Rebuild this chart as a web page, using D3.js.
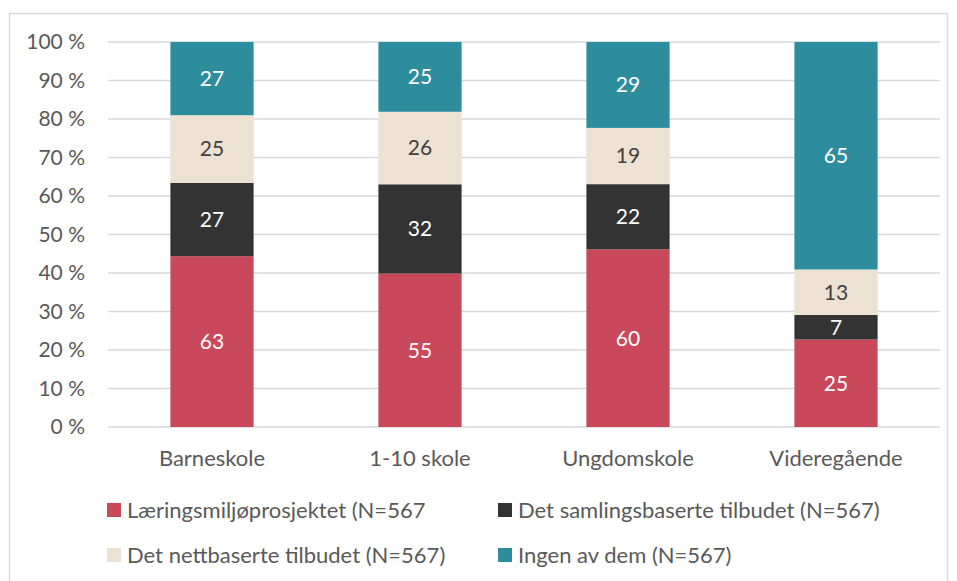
<!doctype html>
<html>
<head>
<meta charset="utf-8">
<style>
  body { margin: 0; background: #fff; }
  svg { font-family: Lato, "Open Sans", sans-serif; }
</style>
</head>
<body>
<svg width="957" height="581"></svg>
<script src="https://d3js.org/d3.v7.min.js"></script>
<script>
  // data (counts per school level)
  let categories = ["Barneskole", "1-10 skole", "Ungdomskole", "Videregående"];
  let seriesNames = [
    "Læringsmiljøprosjektet (N=567",
    "Det samlingsbaserte tilbudet (N=567)",
    "Det nettbaserte tilbudet (N=567)",
    "Ingen av dem (N=567)"
  ];
  let laering = [63, 55, 60, 25];
  let samling = [27, 32, 22, 7];
  let nett = [25, 26, 19, 13];
  let ingen = [27, 25, 29, 65];
  let yTicks = [0, 10, 20, 30, 40, 50, 60, 70, 80, 90, 100];

  let colors = ["#c94859", "#333333", "#ede1d1", "#2e8d9d"];
  let labelColors = ["#fff", "#fff", "#404040", "#fff"];

  let svg = d3.select("svg");

  // chart frame
  svg.append("rect")
    .attr("x", 9.5).attr("y", 13.5)
    .attr("width", 938).attr("height", 570)
    .attr("fill", "#fff").attr("stroke", "#d9d9d9").attr("stroke-width", 1.5);

  let margin = {left: 108, right: 17, top: 42, bottom: 154};
  let width = 957 - margin.left - margin.right,
      height = 581 - margin.top - margin.bottom;

  let g = svg.append("g").attr("transform", `translate(${margin.left},${margin.top})`);

  let x = d3.scaleBand().domain(categories).range([0, width]).paddingInner(0.6).paddingOuter(0.3);
  let y = d3.scaleLinear().domain([0, 100]).range([height, 0]);

  let table = categories.map((c, i) => {
    let vals = [laering[i], samling[i], nett[i], ingen[i]];
    let total = d3.sum(vals);
    let row = {cat: c};
    vals.forEach((v, k) => { row["s" + k] = v / total * 100; row["n" + k] = v; });
    return row;
  });

  let keys = ["s0", "s1", "s2", "s3"];
  let stacked = d3.stack().keys(keys)(table);

  // gridlines
  g.selectAll(".grid").data(yTicks).enter().append("line")
    .attr("x1", 0).attr("x2", width)
    .attr("y1", d => y(d)).attr("y2", d => y(d))
    .attr("stroke", "#d9d9d9").attr("stroke-width", 1.5);

  // y labels
  g.selectAll(".ylab").data(yTicks).enter().append("text")
    .attr("x", -23).attr("y", d => y(d)).attr("dy", "0.35em")
    .attr("text-anchor", "end").attr("font-size", 21).attr("fill", "#595959")
    .text(d => d + " %");

  // bars
  let layer = g.selectAll(".layer").data(stacked).enter().append("g");
  layer.selectAll("rect").data(d => d).enter().append("rect")
    .attr("x", d => x(d.data.cat))
    .attr("width", x.bandwidth())
    .attr("y", d => y(d[1]))
    .attr("height", d => y(d[0]) - y(d[1]))
    .attr("fill", function() { return colors[d3.select(this.parentNode).datum().index]; });

  layer.selectAll("text").data(d => d.map(p => ({p, k: d.index}))).enter().append("text")
    .attr("x", d => x(d.p.data.cat) + x.bandwidth() / 2)
    .attr("y", d => y((d.p[0] + d.p[1]) / 2))
    .attr("dy", "0.35em")
    .attr("text-anchor", "middle").attr("font-size", 21)
    .attr("fill", d => labelColors[d.k])
    .text(d => d.p.data["n" + d.k]);

  // category labels
  g.selectAll(".xlab").data(categories).enter().append("text")
    .attr("x", d => x(d) + x.bandwidth() / 2)
    .attr("y", height + 31).attr("dy", "0.35em")
    .attr("text-anchor", "middle").attr("font-size", 22).attr("fill", "#595959")
    .text(d => d);

  // legend
  let legendPos = [[107, 510], [498, 510], [107, 555], [498, 555]];
  let legend = svg.selectAll(".leg").data(seriesNames).enter().append("g")
    .attr("transform", (d, i) => `translate(${legendPos[i][0]},${legendPos[i][1]})`);
  legend.append("rect").attr("x", 0).attr("y", -7).attr("width", 14).attr("height", 14)
    .attr("fill", (d, i) => colors[i]);
  legend.append("text").attr("x", 20).attr("y", 0).attr("dy", "0.35em")
    .attr("font-size", 22).attr("fill", "#595959").text(d => d);
</script>
</body>
</html>
